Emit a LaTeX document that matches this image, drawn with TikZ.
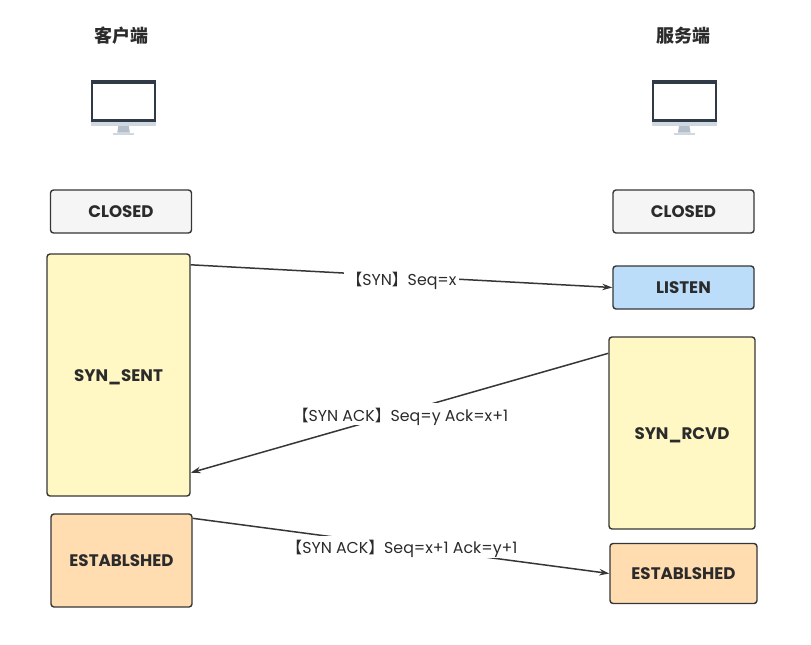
\documentclass[tikz,border=0pt]{standalone}
\usepackage{fontspec}
\setmainfont{Poppins}
\newfontfamily\cjkf{Noto Sans CJK SC}
\usetikzlibrary{calc,arrows.meta}
\definecolor{edge}{HTML}{363636}
\definecolor{txt}{HTML}{2B2B2B}
\definecolor{boxgrey}{HTML}{F5F5F5}
\definecolor{boxblue}{HTML}{BCDDFA}
\definecolor{boxyellow}{HTML}{FFF8C4}
\definecolor{boxorange}{HTML}{FFDDB0}
\definecolor{scr}{HTML}{2F3A46}
\definecolor{scrlight}{HTML}{CFD8E1}
\definecolor{scrmid}{HTML}{B4BFC9}
\tikzset{
  statebox/.style={draw=edge,line width=1.4pt,rounded corners=3pt,inner sep=0pt,text=txt,
    text height=12pt,text depth=0pt,font=\fontsize{16.7}{18}\selectfont\bfseries},
  conn/.style={draw=edge,line width=1.5pt,-{Stealth[length=10pt,width=6.5pt]}},
  msg/.style={fill=white,inner xsep=3pt,inner ysep=0pt,text height=18pt,text depth=4pt,text=txt,font=\fontsize{15.8}{18}\selectfont},
  head/.style={text=txt,font=\cjkf\fontsize{18}{20}\selectfont\bfseries},
}
\newcommand{\bl}{{\cjkf 【}}
\newcommand{\br}{{\cjkf 】}}
\newcommand{\monitor}[2]{%
  \begin{scope}[shift={(#1,#2)}]
    \fill[scrlight] (0,40) rectangle (64.5,46);
    \fill[scrmid] (27,46) -- (37.5,46) -- (38.5,52.5) -- (26,52.5) -- cycle;
    \fill[scrlight] (21.5,52.5) rectangle (43,55);
    \fill[scr] (0,0) rectangle (64.5,41.5);
    \fill[white] (2,4.3) rectangle (62.5,39);
  \end{scope}}
\begin{document}
\begin{tikzpicture}[x=1pt,y=-1pt]
\useasboundingbox (0,0) rectangle (811,645);
\node[head] (hc) at (121,36) {客户端};
\node[head] (hs) at (683,36) {服务端};
\monitor{91.3}{80}
\monitor{652}{80}
\node[statebox,fill=boxgrey,minimum width=141pt,minimum height=43pt] (closedL) at (121,211.5) {CLOSED};
\node[statebox,fill=boxgrey,minimum width=141pt,minimum height=43pt] (closedR) at (683.5,211.5) {CLOSED};
\node[statebox,fill=boxblue,minimum width=141pt,minimum height=43pt] (listen) at (683.5,287.5) {LISTEN};
\node[statebox,fill=boxyellow,minimum width=143pt,minimum height=242pt] (sent) at (118.5,375) {SYN\_SENT};
\node[statebox,fill=boxyellow,minimum width=146pt,minimum height=192pt] (rcvd) at (682,433) {SYN\_RCVD};
\node[statebox,fill=boxorange,minimum width=141pt,minimum height=93pt] (estL) at (121.5,560.5) {ESTABLSHED};
\node[statebox,fill=boxorange,minimum width=147pt,minimum height=60pt] (estR) at (683.5,573.5) {ESTABLSHED};
\draw[conn] ($(sent.north east)+(0,11.5)$) -- node[msg,pos=.5,xshift=0pt,yshift=-2pt] (m1) {\bl SYN\br Seq=x} (listen.west);
\draw[conn] ($(rcvd.north west)+(0,17)$) -- node[msg,pos=.5,xshift=1pt,yshift=-1pt] (m2) {\bl SYN ACK\br Seq=y Ack=x+1} ($(sent.south east)+(0,-24)$);
\draw[conn] ($(estL.north east)+(0,5)$) -- node[msg,pos=.5,xshift=1pt,yshift=-1pt] (m3) {\bl SYN ACK\br Seq=x+1 Ack=y+1} (estR.west);
\end{tikzpicture}
\end{document}
